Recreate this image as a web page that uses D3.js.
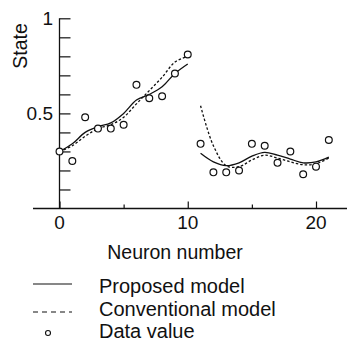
<!DOCTYPE html>
<html>
<head>
<meta charset="utf-8">
<script src="https://cdn.jsdelivr.net/npm/d3@7"></script>
<style>
  html, body { margin: 0; padding: 0; background: #fff; }
  svg { display: block; font-family: "Liberation Sans", Arial, Helvetica, sans-serif; }
</style>
</head>
<body>
<svg id="chart" width="347" height="343"></svg>
<script>
// ---- data ----
const neuronsLeft = [0, 1, 2, 3, 4, 5, 6, 7, 8, 9, 10];
const neuronsRight = [11, 12, 13, 14, 15, 16, 17, 18, 19, 20, 21];
const dataLeft = [0.30, 0.25, 0.48, 0.42, 0.42, 0.44, 0.65, 0.58, 0.59, 0.71, 0.81];
const dataRight = [0.34, 0.19, 0.19, 0.20, 0.34, 0.33, 0.24, 0.30, 0.18, 0.22, 0.36];
const proposedLeft = [0.30, 0.34, 0.40, 0.43, 0.45, 0.50, 0.57, 0.60, 0.64, 0.71, 0.76];
const proposedRight = [0.29, 0.245, 0.225, 0.24, 0.275, 0.295, 0.28, 0.26, 0.24, 0.245, 0.27];
const conventionalLeft = [0.30, 0.33, 0.38, 0.42, 0.44, 0.48, 0.55, 0.62, 0.69, 0.77, 0.80];
const conventionalRight = [0.54, 0.33, 0.225, 0.22, 0.255, 0.28, 0.265, 0.245, 0.23, 0.235, 0.265];
const yTickValues = [0.1, 0.2, 0.3, 0.4, 0.5, 0.6, 0.7, 0.8, 0.9, 1.0];
const yTickLabels = [{v: 0.5, t: "0.5"}, {v: 1, t: "1"}];
const xMajorTicks = [0, 10, 20];
const xMinorTicks = [5, 15];
const legendItems = ["Proposed model", "Conventional model", "Data value"];

// ---- layout ----
const svg = d3.select("#chart");
const x = d3.scaleLinear().domain([0, 20]).range([59.5, 316]);
const y = d3.scaleLinear().domain([0, 1]).range([208.5, 18.3]);
const ink = "#111";

// axes lines
svg.append("line").attr("x1", 33).attr("x2", 347).attr("y1", y(0)).attr("y2", y(0))
  .attr("stroke", ink).attr("stroke-width", 1.3);
svg.append("line").attr("x1", x(0)).attr("x2", x(0)).attr("y1", y(1)).attr("y2", y(0))
  .attr("stroke", ink).attr("stroke-width", 1.3);

// y ticks (inward)
const yAxis = d3.axisRight(y).tickValues(yTickValues).tickSize(11).tickFormat("");
const gy = svg.append("g").attr("transform", `translate(${x(0)},0)`).call(yAxis);
gy.select(".domain").remove();
gy.selectAll("line").attr("stroke", ink).attr("stroke-width", 1.2);

svg.selectAll(".ylab").data(yTickLabels).enter().append("text")
  .attr("x", 53).attr("y", d => y(d.v)).attr("dy", "0.36em")
  .attr("text-anchor", "end").attr("font-size", 19).attr("fill", ink).text(d => d.t);

// x ticks (inward)
const gxMaj = svg.append("g").attr("transform", `translate(0,${y(0)})`)
  .call(d3.axisTop(x).tickValues(xMajorTicks).tickSize(7).tickFormat(""));
gxMaj.select(".domain").remove();
gxMaj.selectAll("line").attr("stroke", ink).attr("stroke-width", 1.2);
const gxMin = svg.append("g").attr("transform", `translate(0,${y(0)})`)
  .call(d3.axisTop(x).tickValues(xMinorTicks).tickSize(4).tickFormat(""));
gxMin.select(".domain").remove();
gxMin.selectAll("line").attr("stroke", ink).attr("stroke-width", 1.2);

svg.selectAll(".xlab").data(xMajorTicks).enter().append("text")
  .attr("x", d => x(d)).attr("y", 229).attr("text-anchor", "middle")
  .attr("font-size", 19).attr("fill", ink).text(d => d);

// axis titles
svg.append("text").attr("x", 175).attr("y", 259).attr("text-anchor", "middle")
  .attr("font-size", 19.5).attr("fill", ink).text("Neuron number");
svg.append("text").attr("transform", "translate(27,46) rotate(-90)")
  .attr("text-anchor", "middle").attr("font-size", 19.5).attr("fill", ink).text("State");

// model lines
const line = d3.line().x(d => x(d[0])).y(d => y(d[1])).curve(d3.curveCatmullRom.alpha(0.5));
const zip = (a, b) => a.map((v, i) => [v, b[i]]);
[[neuronsLeft, proposedLeft], [neuronsRight, proposedRight]].forEach(([n, v]) => {
  svg.append("path").attr("d", line(zip(n, v))).attr("fill", "none")
    .attr("stroke", ink).attr("stroke-width", 1.3);
});
[[neuronsLeft, conventionalLeft], [neuronsRight, conventionalRight]].forEach(([n, v]) => {
  svg.append("path").attr("d", line(zip(n, v))).attr("fill", "none")
    .attr("stroke", ink).attr("stroke-width", 1.3).attr("stroke-dasharray", "2.5,2");
});

// data circles
const pts = zip(neuronsLeft, dataLeft).concat(zip(neuronsRight, dataRight));
svg.selectAll(".pt").data(pts).enter().append("circle")
  .attr("cx", d => x(d[0])).attr("cy", d => y(d[1])).attr("r", 3.4)
  .attr("fill", "#fff").attr("stroke", ink).attr("stroke-width", 1.2);

// legend
const legY = [284, 312, 333];
const legTextY = [293, 316, 338];
svg.append("line").attr("x1", 33).attr("x2", 72).attr("y1", legY[0]).attr("y2", legY[0])
  .attr("stroke", ink).attr("stroke-width", 1.2);
svg.append("line").attr("x1", 33).attr("x2", 72).attr("y1", legY[1]).attr("y2", legY[1])
  .attr("stroke", ink).attr("stroke-width", 1.2).attr("stroke-dasharray", "5,4");
svg.append("circle").attr("cx", 48).attr("cy", legY[2]).attr("r", 2.5)
  .attr("fill", "#fff").attr("stroke", ink).attr("stroke-width", 1.1);
svg.selectAll(".legt").data(legendItems).enter().append("text")
  .attr("x", 99).attr("y", (d, i) => legTextY[i]).attr("font-size", 20).attr("fill", ink)
  .text(d => d);
</script>
</body>
</html>
